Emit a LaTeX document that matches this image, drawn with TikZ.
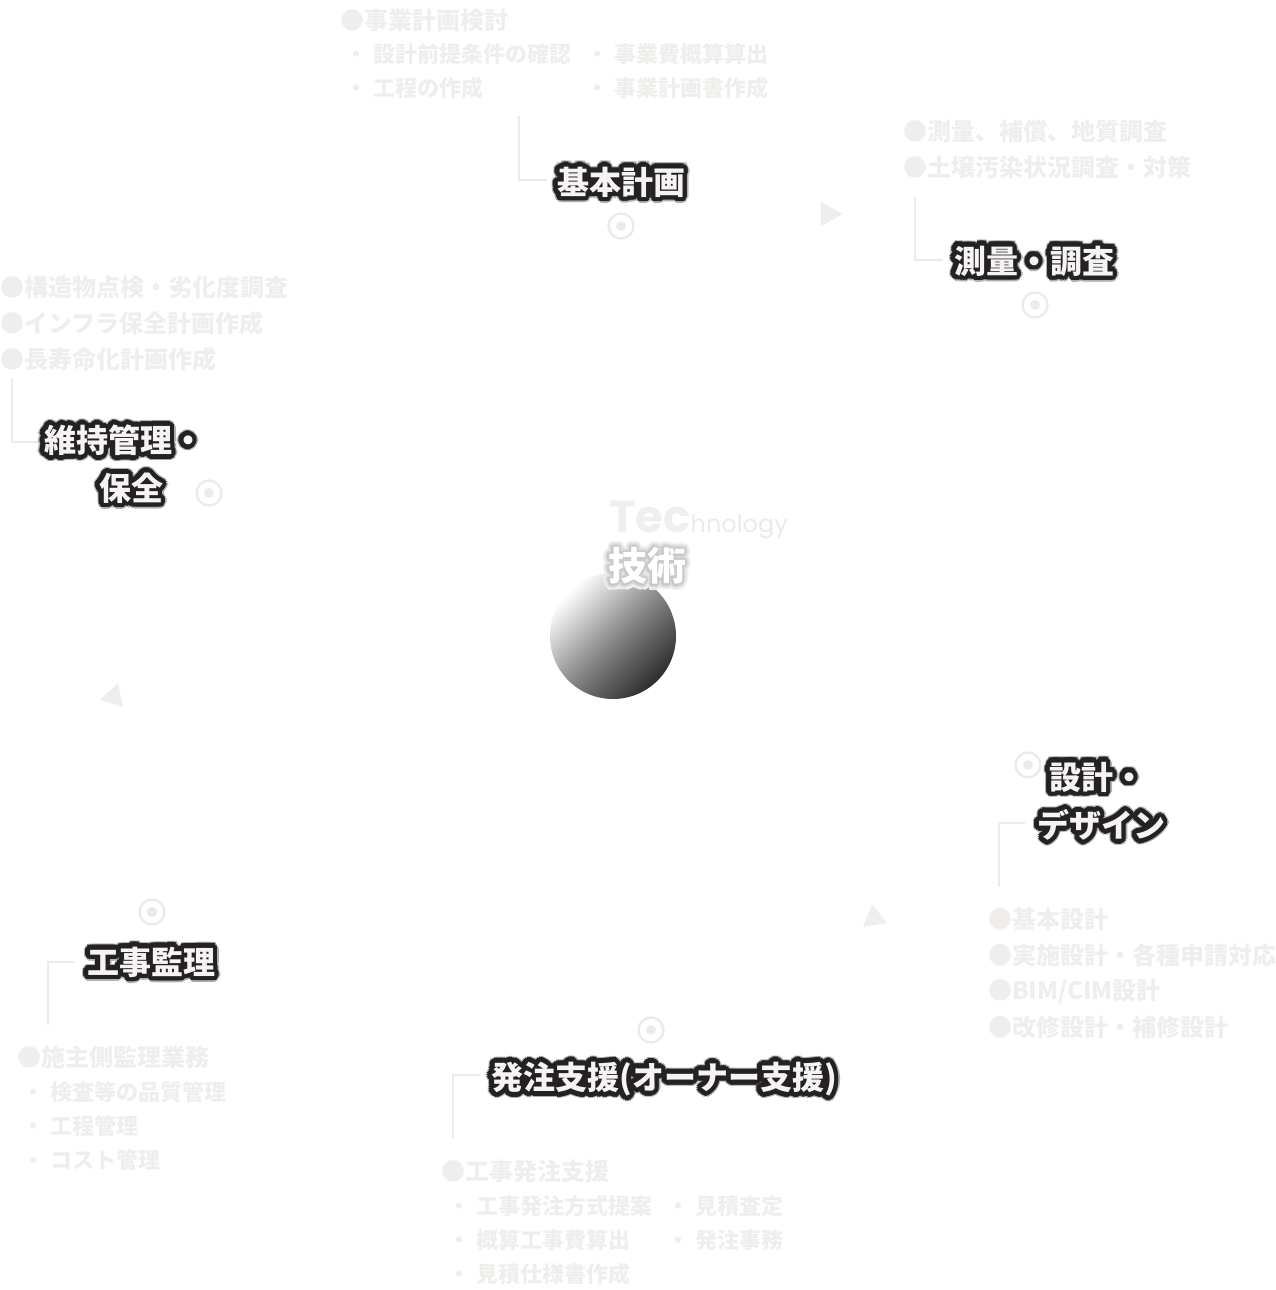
\documentclass[tikz,border=0pt]{standalone}
\usepackage{fontspec}
\newfontfamily\jp{Noto Sans CJK JP}
\newfontfamily\pop{Poppins}
\definecolor{faint}{HTML}{EFEEEC}
\definecolor{lineclr}{HTML}{ECEBE8}
\definecolor{ringclr}{HTML}{ECEBE9}
\definecolor{ink}{HTML}{232122}
\definecolor{halo}{HTML}{B0B0B0}
\definecolor{lblfg}{HTML}{F5F4F2}
\definecolor{tecclr}{HTML}{F0EFED}
\definecolor{hnoclr}{HTML}{EBEAE8}
\definecolor{glowA}{HTML}{F3F3F3}
\definecolor{glowB}{HTML}{E6E6E6}
\definecolor{glowC}{HTML}{D8D8D8}
\definecolor{glowD}{HTML}{C8C8C8}
\newsavebox\lblbox
\newcommand\olayer[2]{%
  \foreach \a in {0,20,...,340}{%
    \pgfmathsetlengthmacro\dx{#1*cos(\a)}%
    \pgfmathsetlengthmacro\dy{#1*sin(\a)}%
    \rlap{\kern\dx\raisebox{\dy}{\textcolor{#2}{\usebox\lblbox}}}%
  }}
\newcommand\olbl[1]{%
  \setbox\lblbox\hbox{#1}%
  \olayer{6pt}{halo}\olayer{4.8pt}{ink}\olayer{3.4pt}{ink}\olayer{2pt}{ink}\olayer{0.8pt}{ink}%
  \textcolor{lblfg}{\usebox\lblbox}}
\newcommand\glowlbl[1]{%
  \setbox\lblbox\hbox{#1}%
  \olayer{6pt}{glowA}\olayer{4.5pt}{glowB}\olayer{3pt}{glowC}\olayer{1.5pt}{glowD}%
  \textcolor{white}{\usebox\lblbox}}
\newcommand\sub[1]{\makebox[1.3em][l]{・}#1}
\begin{document}
\begin{tikzpicture}[x=1pt,y=-1pt,
  conn/.style={draw=lineclr, line width=1.5pt},
  hdr/.style={anchor=west, inner sep=0pt, text=faint, font=\jp\bfseries\fontsize{24}{28}\selectfont},
  subitem/.style={anchor=west, inner sep=0pt, text=faint, font=\jp\bfseries\fontsize{22}{26}\selectfont},
  lbl/.style={inner sep=0pt, font=\jp\bfseries\fontsize{32}{36}\selectfont},
  ring/.style={draw=ringclr, line width=2.4pt},
  dotfill/.style={fill=ringclr},
  tri/.style={fill=faint}]
\useasboundingbox (0,0) rectangle (1276,1290);

% ---------- centre ----------
\shade[top color=white, bottom color=ink!95, middle color=black!45, shading angle=45]
  (613,636) circle[radius=63pt];
\node[anchor=base west, inner sep=0pt] (tech) at (609,532)
  {{\pop\bfseries\fontsize{45}{50}\selectfont\color{tecclr}Tec}{\pop\fontsize{24}{28}\selectfont\color{hnoclr}hnology}};
\node[inner sep=0pt, font=\jp\bfseries\fontsize{39}{44}\selectfont] (gijutsu) at (647,566) {\glowlbl{技術}};

% ---------- triangles ----------
\fill[tri] (821,202) -- (821,226) -- (843,214) -- cycle;
\fill[tri] (872,904) -- (863,927) -- (887,923) -- cycle;
\fill[tri] (118,683) -- (100,700) -- (123,707) -- cycle;

% ---------- 1 基本計画 ----------
\node[hdr] (h1) at (340,20) {●事業計画検討};
\node[subitem] (s1a) at (345,54) {\sub{設計前提条件の確認}};
\node[subitem] (s1b) at (586,54) {\sub{事業費概算算出}};
\node[subitem] (s1c) at (345,88) {\sub{工程の作成}};
\node[subitem] (s1d) at (586,88) {\sub{事業計画書作成}};
\coordinate (c1a) at (519,116);
\coordinate (c1b) at (547,180);
\draw[conn] (c1a) |- (c1b);
\node[lbl] (l1) at (621,182) {\olbl{基本計画}};
\coordinate (t1) at (621,226);
\draw[ring] (t1) circle[radius=12.5pt];
\fill[dotfill] (t1) circle[radius=5pt];

% ---------- 2 測量・調査 ----------
\node[hdr] (h2a) at (903,131) {●測量、補償、地質調査};
\node[hdr] (h2b) at (903,167) {●土壌汚染状況調査・対策};
\coordinate (c2a) at (915,197);
\coordinate (c2b) at (943,260);
\draw[conn] (c2a) |- (c2b);
\node[lbl] (l2) at (1034,261) {\olbl{測量・調査}};
\coordinate (t2) at (1035,305);
\draw[ring] (t2) circle[radius=12.5pt];
\fill[dotfill] (t2) circle[radius=5pt];

% ---------- 3 維持管理・保全 ----------
\node[hdr] (h3a) at (0,287) {●構造物点検・劣化度調査};
\node[hdr] (h3b) at (0,323) {●インフラ保全計画作成};
\node[hdr] (h3c) at (0,359) {●長寿命化計画作成};
\coordinate (c3a) at (12,378);
\coordinate (c3b) at (38,442);
\draw[conn] (c3a) |- (c3b);
\node[lbl] (l3a) at (124,440) {\olbl{維持管理・}};
\node[lbl] (l3b) at (131,488) {\olbl{保全}};
\coordinate (t3) at (209,493);
\draw[ring] (t3) circle[radius=12.5pt];
\fill[dotfill] (t3) circle[radius=5pt];

% ---------- 4 設計・デザイン ----------
\coordinate (t4) at (1028,765);
\draw[ring] (t4) circle[radius=12.5pt];
\fill[dotfill] (t4) circle[radius=5pt];
\node[lbl] (l4a) at (1097,777) {\olbl{設計・}};
\node[lbl] (l4b) at (1101,825) {\olbl{デザイン}};
\coordinate (c4a) at (1025,823);
\coordinate (c4b) at (999,887);
\draw[conn] (c4a) -| (c4b);
\node[hdr] (h4a) at (988,919) {●基本設計};
\node[hdr] (h4b) at (988,955) {●実施設計・各種申請対応};
\node[hdr] (h4c) at (988,991) {●BIM/CIM設計};
\node[hdr] (h4d) at (988,1027) {●改修設計・補修設計};

% ---------- 5 工事監理 ----------
\coordinate (t5) at (152,912);
\draw[ring] (t5) circle[radius=12.5pt];
\fill[dotfill] (t5) circle[radius=5pt];
\node[lbl] (l5) at (151,962) {\olbl{工事監理}};
\coordinate (c5a) at (75,962);
\coordinate (c5b) at (48,1025);
\draw[conn] (c5a) -| (c5b);
\node[hdr] (h5) at (17,1057) {●施主側監理業務};
\node[subitem] (s5a) at (22,1092) {\sub{検査等の品質管理}};
\node[subitem] (s5b) at (22,1126) {\sub{工程管理}};
\node[subitem] (s5c) at (22,1160) {\sub{コスト管理}};

% ---------- 6 発注支援 ----------
\coordinate (t6) at (651,1030);
\draw[ring] (t6) circle[radius=12.5pt];
\fill[dotfill] (t6) circle[radius=5pt];
\node[lbl] (l6) at (664,1079) {\olbl{発注支援(オーナー支援)}};
\coordinate (c6a) at (480,1075);
\coordinate (c6b) at (453,1138);
\draw[conn] (c6a) -| (c6b);
\node[hdr] (h6) at (441,1171) {●工事発注支援};
\node[subitem] (s6a) at (448,1206) {\sub{工事発注方式提案}};
\node[subitem] (s6b) at (667,1206) {\sub{見積査定}};
\node[subitem] (s6c) at (448,1240) {\sub{概算工事費算出}};
\node[subitem] (s6d) at (667,1240) {\sub{発注事務}};
\node[subitem] (s6e) at (448,1274) {\sub{見積仕様書作成}};
\end{tikzpicture}
\end{document}
